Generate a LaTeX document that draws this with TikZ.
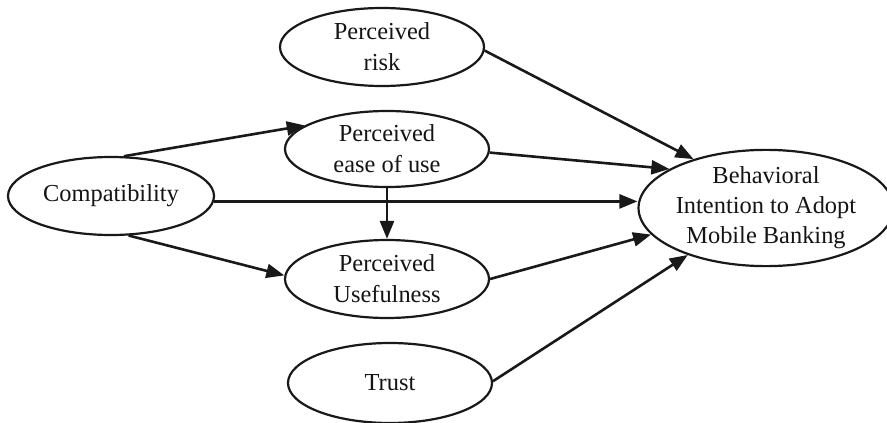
\documentclass[tikz,border=0pt]{standalone}
\usepackage{fontspec}
\setmainfont{Liberation Serif}
\usetikzlibrary{shapes.geometric,arrows.meta}
\begin{document}
\begin{tikzpicture}[x=1pt,y=-1pt,
  construct/.style={ellipse,draw=black!90,line width=2.2pt,inner sep=0pt,
    align=center,text=black!92,font=\fontsize{24.4}{30}\selectfont},
  path/.style={draw=black!90,line width=2.6pt,
    -{Triangle[length=18pt,width=14pt]}}]
\useasboundingbox (0,0) rectangle (887,423);
% constructs of the adoption model
\node[construct,minimum width=204pt,minimum height=78pt] (risk) at (382,47)
  {Perceived\\[1pt]risk};
\node[construct,minimum width=204pt,minimum height=76pt] (peou) at (387,149)
  {Perceived\\[1pt]ease of use};
\node[construct,minimum width=206pt,minimum height=78pt] (comp) at (111,196)
  {Compatibility};
\node[construct,minimum width=204pt,minimum height=78pt] (pu) at (387,279)
  {Perceived\\[1pt]Usefulness};
\node[construct,minimum width=204pt,minimum height=80pt] (trust) at (390,383)
  {Trust};
\node[construct,minimum width=236pt,minimum height=108pt] (bi) at (766,208)
  {Behavioral\\Intention to Adopt\\Mobile Banking};
% hypothesised paths
\draw[path] (risk.-2) -- (bi.146);
\draw[path] (peou.-2) -- (bi.158);
\draw[path] (comp.-3) -- (comp.-3 -| bi.west);
\draw[path] (comp.72) -- (peou.164);
\draw[path] (comp.-66) -- (pu.178);
\draw[path] (peou.south) -- (pu.north);
\draw[path] (pu.0) -- (bi.193);
\draw[path] (trust.1) -- (bi.211);
\end{tikzpicture}
\end{document}
